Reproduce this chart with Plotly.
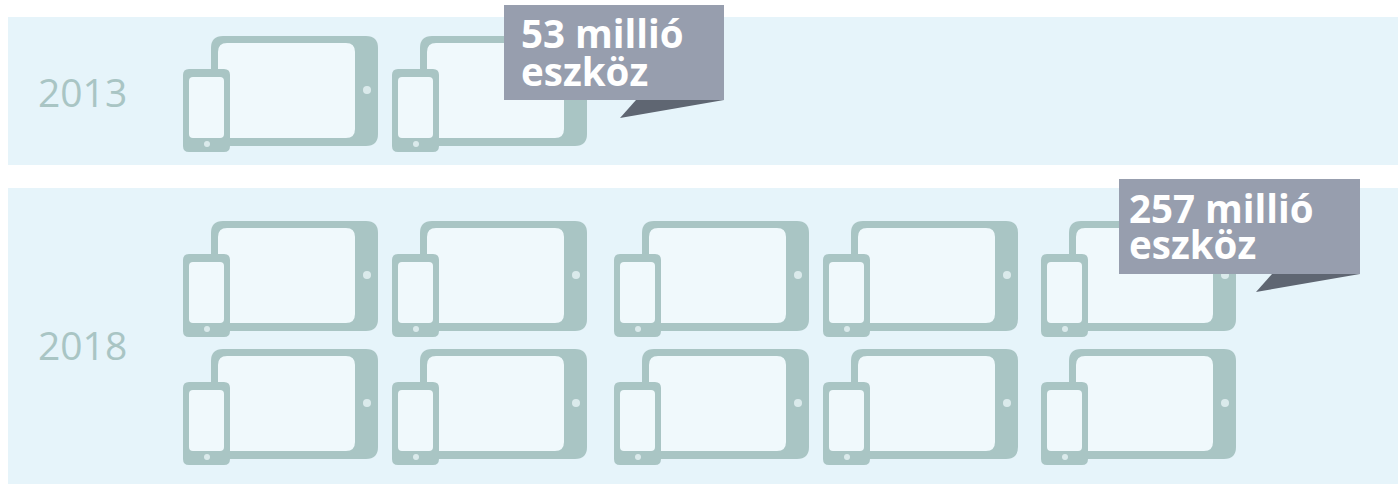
import plotly.graph_objects as go

years = ["2013", "2018"]
device_labels = [["53 millió", "eszköz"], ["257 millió", "eszköz"]]
icon_counts = [2, 10]

W, H = 1398, 484
BAND = "#e6f4fa"
ICON = "#a9c5c4"
SCREEN = "#f0f9fc"
CALLOUT = "#979eae"
TAIL = "#5f6672"
FONT = "Open Sans"

column_left = [183, 392, 614, 823, 1041]
band_spans = [(17, 165), (188, 484)]
row_tops = [[36], [221, 349]]
label_y = [91, 344]
callout_boxes = [(504, 724, 5, 100, 636), (1119, 1360, 179, 274, 1272)]
callout_text = [[(519, 33), (519, 71)], [(1127, 208), (1127, 244)]]


def rrect(x0, y0, x1, y1, r):
    return (f"M{x0+r},{y0} L{x1-r},{y0} Q{x1},{y0} {x1},{y0+r} L{x1},{y1-r} Q{x1},{y1} {x1-r},{y1} "
            f"L{x0+r},{y1} Q{x0},{y1} {x0},{y1-r} L{x0},{y0+r} Q{x0},{y0} {x0+r},{y0} Z")


def path(d, fill, layer="below"):
    return dict(type="path", path=d, fillcolor=fill, line_width=0, xref="x", yref="y", layer=layer)


shapes = []
dots_x, dots_y, dots_s = [], [], []
for (y0, y1) in band_spans:
    shapes.append(path(rrect(8, y0, W, y1, 0), BAND))

for i, tops in enumerate(row_tops):
    n = 0
    for top in tops:
        for left in column_left:
            if n >= icon_counts[i]:
                break
            n += 1
            shapes.append(path(rrect(left + 28, top, left + 195, top + 110, 12), ICON))
            shapes.append(path(rrect(left + 35, top + 7, left + 172, top + 102, 9), SCREEN))
            shapes.append(path(rrect(left, top + 33, left + 47, top + 116, 6), ICON))
            shapes.append(path(rrect(left + 6, top + 41, left + 41, top + 102, 4), SCREEN))
            dots_x += [left + 184, left + 24]
            dots_y += [top + 54, top + 108]
            dots_s += [8, 6]

for x0, x1, y0, y1, tx in callout_boxes:
    shapes.append(path(f"M{x1},{y1} L{tx-16},{y1+18} L{tx},{y1} Z", TAIL, "above"))
    shapes.append(path(rrect(x0, y0, x1, y1, 0), CALLOUT, "above"))

fig = go.Figure(go.Scatter(
    x=dots_x, y=dots_y, mode="markers",
    marker=dict(size=dots_s, color=SCREEN, line_width=0),
    hoverinfo="skip", showlegend=False,
))

annotations = []
for year, y in zip(years, label_y):
    annotations.append(dict(x=36, y=y, text=year, showarrow=False, xref="x", yref="y",
                            xanchor="left", yanchor="middle",
                            font=dict(family=FONT, size=39, color=ICON)))
for lines, pos in zip(device_labels, callout_text):
    for line, (x, y) in zip(lines, pos):
        annotations.append(dict(x=x, y=y, text=line, showarrow=False, xref="x", yref="y",
                                xanchor="left", yanchor="middle",
                                font=dict(family=FONT, size=38.5, color="#ffffff", weight=700)))

fig.update_layout(
    width=W, height=H, margin=dict(l=0, r=0, t=0, b=0),
    paper_bgcolor="#ffffff", plot_bgcolor="#ffffff",
    xaxis=dict(range=[0, W], visible=False, fixedrange=True),
    yaxis=dict(range=[H, 0], visible=False, fixedrange=True),
    shapes=shapes, annotations=annotations,
)
fig.write_html("out.html", config={"displayModeBar": False},
               post_script="document.body.style.margin='0';document.body.style.overflow='hidden';")
